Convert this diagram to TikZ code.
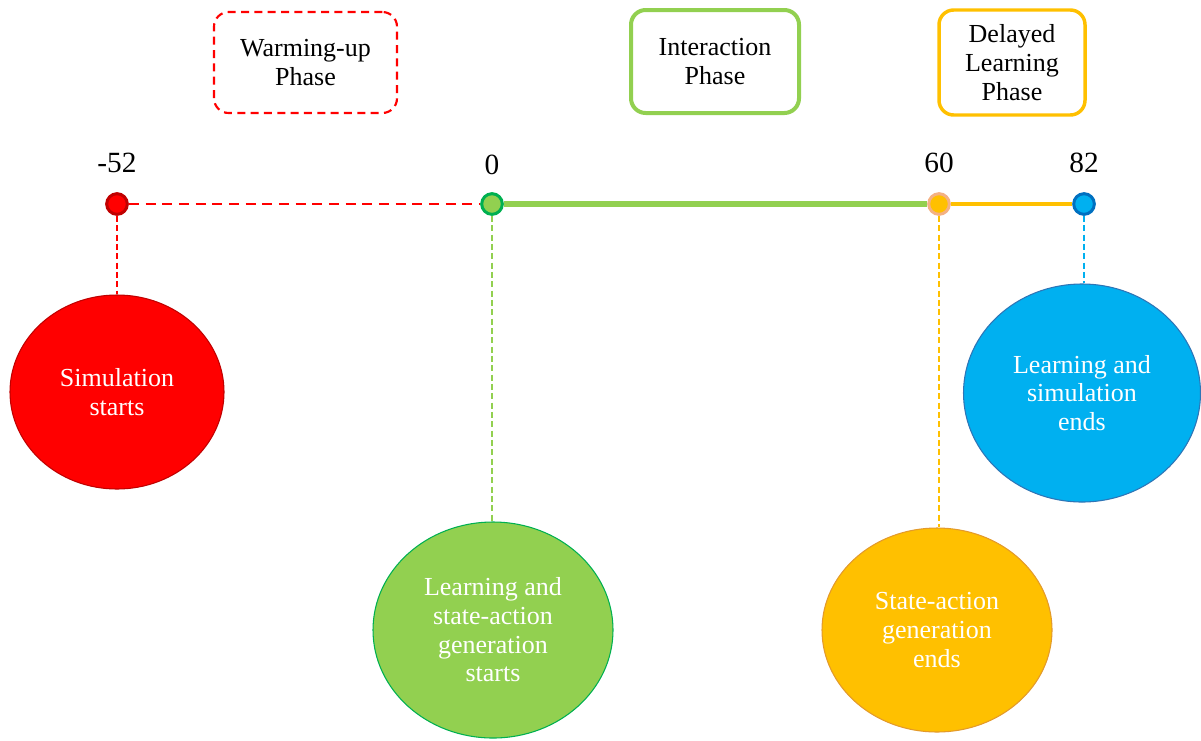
\documentclass[tikz,border=0pt]{standalone}
\usepackage{fontspec}
\setmainfont{Liberation Serif}
\usepackage{xcolor}
\usepackage{tikz}
\usetikzlibrary{positioning}
\usetikzlibrary{shapes.geometric}

\definecolor{pred}{HTML}{FF0000}
\definecolor{pdred}{HTML}{C00000}
\definecolor{pgreen}{HTML}{92D050}
\definecolor{pdgreen}{HTML}{00B050}
\definecolor{porange}{HTML}{FFC000}
\definecolor{plorange}{HTML}{F4B183}
\definecolor{pdorange}{HTML}{E39A2B}
\definecolor{pblue}{HTML}{00B0F0}
\definecolor{pdblue}{HTML}{0070C0}
\definecolor{pmblue}{HTML}{2E75B6}

\tikzset{
	phasebox/.style={rounded corners=11pt,align=center,inner sep=0pt,
		font=\fontsize{19.5}{21.5}\selectfont},
	tdot/.style={circle,minimum size=15.5pt,inner sep=0pt,line width=2.25pt},
	tnum/.style={inner sep=0pt,font=\fontsize{22}{24}\selectfont},
	event/.style={ellipse,inner sep=0pt,align=center,text=white,line width=0.8pt,
		font=\fontsize{19.5}{21.5}\selectfont},
	vlink/.style={line width=1pt,dash pattern=on 4.5pt off 2.5pt}
}

\begin{document}
\begin{tikzpicture}[x=0.75pt,y=-0.75pt]
		\useasboundingbox (0,0) rectangle (1201,740);
		\node[phasebox,draw=pred,line width=1.6pt,dash pattern=on 6pt off 4pt,
			minimum width=137.25pt,minimum height=75.75pt] (warm) at (305.5,62.5) {Warming-up\\Phase};
		\node[phasebox,draw=pgreen,line width=3pt,
			minimum width=126pt,minimum height=77.25pt] (inter) at (715,61.5) {Interaction\\Phase};
		\node[phasebox,draw=porange,line width=2.6pt,
			minimum width=109.5pt,minimum height=78.75pt] (delay) at (1012,62.5) {Delayed\\Learning\\Phase};

		\node[tdot,fill=pred,draw=pdred] (t1) at (117,204) {};
		\node[tdot,fill=pgreen,draw=pdgreen] (t2) at (492,204) {};
		\node[tdot,fill=porange,draw=plorange] (t3) at (939,204) {};
		\node[tdot,fill=pblue,draw=pdblue] (t4) at (1084,204) {};
		\node[tnum,above=14pt of t1] (n1) {-52};
		\node[tnum,above=13pt of t2] (n2) {0};
		\node[tnum,above=14pt of t3] (n3) {60};
		\node[tnum,above=14pt of t4] (n4) {82};

		\draw[pred,line width=1.8pt,dash pattern=on 7.5pt off 5pt] (t1) -- (t2);
		\draw[pgreen,line width=4.5pt] (t2) -- (t3);
		\draw[porange,line width=3pt] (t3) -- (t4);

		\node[event,fill=pred,draw=pdred,minimum width=160.5pt,minimum height=145.5pt]
			(e1) at (117,392) {Simulation\\starts};
		\node[event,fill=pgreen,draw=pdgreen,minimum width=180pt,minimum height=162pt]
			(e2) at (493,630) {Learning and\\state-action\\generation\\starts};
		\node[event,fill=porange,draw=pdorange,minimum width=172.5pt,minimum height=153pt]
			(e3) at (937,630) {State-action\\generation\\ends};
		\node[event,fill=pblue,draw=pmblue,minimum width=177.75pt,minimum height=163.5pt]
			(e4) at (1082,393) {Learning and\\simulation\\ends};

		\draw[vlink,pred] (t1.south) -- (t1.south |- e1.north);
		\draw[vlink,pgreen] (t2.south) -- (t2.south |- e2.north);
		\draw[vlink,porange] (t3.south) -- (t3.south |- e3.north);
		\draw[vlink,pblue] (t4.south) -- (t4.south |- e4.north);
	\end{tikzpicture}
\end{document}
